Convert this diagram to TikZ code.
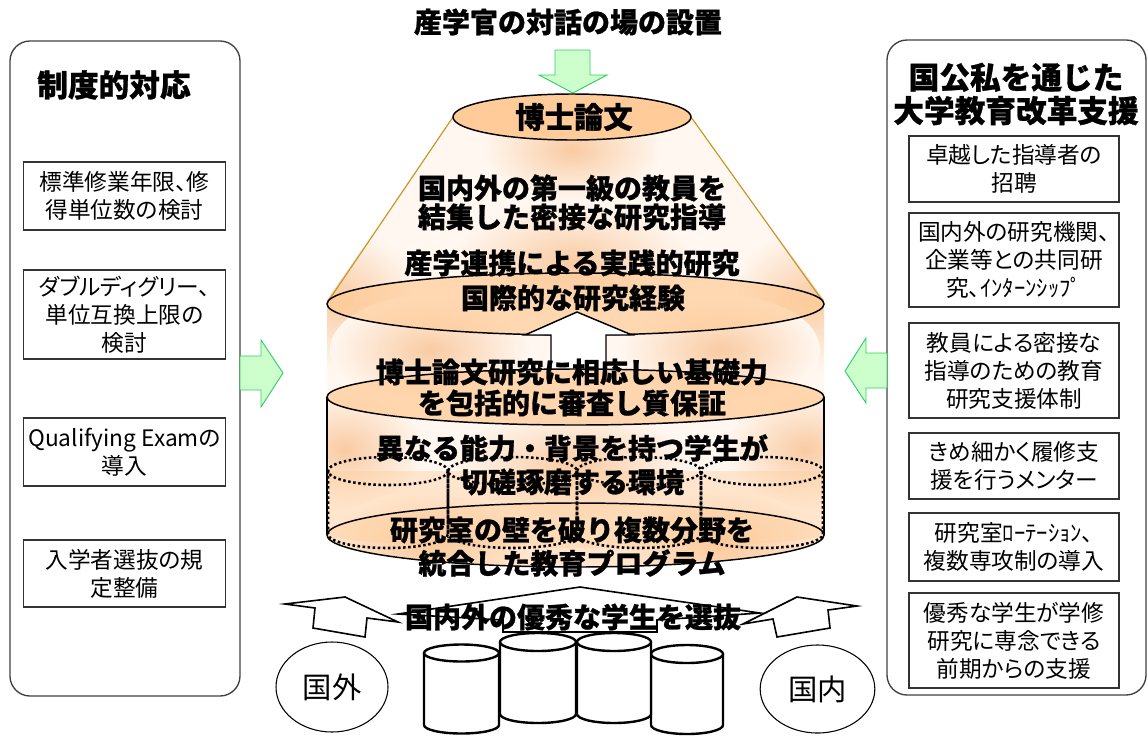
\documentclass[tikz,border=0pt]{standalone}
\usepackage{fontspec}
\newfontfamily\jp[BoldFeatures={FakeBold=0.9}]{Noto Sans CJK JP}
\newfontfamily\jpp[RawFeature=+palt]{Noto Sans CJK JP}
\usetikzlibrary{shapes.geometric}
\definecolor{peach}{HTML}{FFCC99}
\definecolor{peachlt}{HTML}{FFF7F0}
\definecolor{blob}{HTML}{F9CBA2}
\definecolor{gold}{HTML}{C8982A}
\definecolor{mint}{HTML}{CCFFCC}
\definecolor{mintdk}{HTML}{33CC66}

\begin{document}
\begin{tikzpicture}[
		x=0.75pt, y=-0.75pt,
		every node/.style={inner sep=0pt},
		headtext/.style={font=\jp\bfseries\fontsize{21}{24}\selectfont},
		sidetitle/.style={font=\jp\bfseries\fontsize{23}{25}\selectfont, align=center},
		itembox/.style={draw=black!80, line width=0.8pt, align=center, font=\jpp\fontsize{17}{21}\selectfont},
		lbox/.style={itembox, minimum width=152pt},
		rbox/.style={itembox, minimum width=157.5pt},
		panel/.style={draw=black!75, line width=1pt, rounded corners=15pt},
		greenarrow/.style={fill=mint, draw=mintdk, line width=0.7pt},
		disc/.style={draw=black, line width=1.1pt},
		wallline/.style={line width=1.9pt, dash pattern=on 1.9pt off 1.9pt},
		drum/.style={draw=black, fill=white, line width=1.8pt},
		outline/.style={draw=black, fill=white, line width=1.2pt},
		origin/.style={draw, ellipse, line width=0.8pt, font=\jp\fontsize{22}{24}\selectfont}
	]
  \useasboundingbox (0,0) rectangle (1148,743);

  % side panels
  \draw[panel] (10,41) rectangle (240,696);
  \draw[panel] (887,40) rectangle (1146,695);
  \node (ltitle) [sidetitle] at (114,85) {制度的対応};
  \node (l1) [lbox, minimum height=51pt] at (124.5,196) {標準修業年限、修\\得単位数の検討};
  \node (l2) [lbox, minimum height=66.75pt] at (124.5,314.5) {ダブルディグリー、\\単位互換上限の\\検討};
  \node (l3) [lbox, minimum height=51pt] at (124.5,452) {Qualifying Examの\\導入};
  \node (l4) [lbox, minimum height=50.25pt] at (124.5,573.5) {入学者選抜の規\\定整備};

  \node (rtitle) [sidetitle] at (1016,94) {国公私を通じた\\大学教育改革支援};
  \node (r1) [rbox, minimum height=49.5pt] at (1014,169) {卓越した指導者の\\招聘};
  \node (r2) [rbox, minimum height=70.5pt] at (1014,260) {国内外の研究機関、\\企業等との共同研\\究、ｲﾝﾀｰﾝｼｯﾌﾟ};
  \node (r3) [rbox, minimum height=71.25pt] at (1014,370.5) {教員による密接な\\指導のための教育\\研究支援体制};
  \node (r4) [rbox, minimum height=49.5pt] at (1014,466) {きめ細かく履修支\\援を行うメンター};
  \node (r5) [rbox, minimum height=51pt] at (1014,547) {研究室ﾛｰﾃｰｼｮﾝ、\\複数専攻制の導入};
  \node (r6) [rbox, minimum height=71.25pt] at (1014,640.5) {優秀な学生が学修\\研究に専念できる\\前期からの支援};

  % green arrows
  \draw[greenarrow] (240,356) -- (261,356) -- (261,340) -- (283,373) -- (261,407) -- (261,390) -- (240,390) -- cycle;
  \draw[greenarrow] (887,353) -- (866,353) -- (866,338) -- (845,371) -- (866,403) -- (866,388) -- (887,388) -- cycle;
  \draw[greenarrow] (555,50) -- (590,50) -- (590,75) -- (607,75) -- (573,93) -- (539,75) -- (555,75) -- cycle;
  \node (dialog) [headtext] at (568,22) {産学官の対話の場の設置};

  % textured cone and cylinder
  \begin{scope}
    \clip (453,117) -- (691,117) -- (824,300) -- (824,535) arc[start angle=0, end angle=180, x radius=248.5, y radius=32] -- (327,300) -- cycle;
    \fill[peachlt] (300,90) rectangle (850,600);
    \shade[inner color=blob, outer color=peachlt] (572,150) ellipse [x radius=90, y radius=50];
    \shade[inner color=blob, outer color=peachlt] (572,262) ellipse [x radius=120, y radius=60];
    \shade[inner color=blob, outer color=peachlt] (340,300) ellipse [x radius=80, y radius=70];
    \shade[inner color=blob, outer color=peachlt] (810,300) ellipse [x radius=80, y radius=70];
    \shade[inner color=blob, outer color=peachlt] (430,350) ellipse [x radius=100, y radius=55];
    \shade[inner color=blob, outer color=peachlt] (720,350) ellipse [x radius=100, y radius=55];
    \shade[inner color=blob, outer color=peachlt] (345,450) ellipse [x radius=80, y radius=60];
    \shade[inner color=blob, outer color=peachlt] (805,450) ellipse [x radius=80, y radius=60];
    \shade[inner color=blob, outer color=peachlt] (572,465) ellipse [x radius=120, y radius=55];
    \shade[inner color=blob, outer color=peachlt] (430,545) ellipse [x radius=100, y radius=55];
    \shade[inner color=blob, outer color=peachlt] (720,545) ellipse [x radius=100, y radius=55];
  \end{scope}
  \draw[gold, line width=0.9pt] (453,117) -- (329,300);
  \draw[gold, line width=0.9pt] (691,117) -- (822,300);

  % thesis disc and research disc
  \draw[disc, fill=peach] (572,117) ellipse [x radius=119, y radius=23];
  \node (thesis) [font=\jp\bfseries\fontsize{22}{24}\selectfont] at (574,117) {博士論文};
  \draw[disc, fill=peach, fill opacity=0.7] (575.5,304) ellipse [x radius=248.5, y radius=31];
  \draw[outline, line width=1.1pt] (551,372) -- (551,335) -- (525,335) -- (577,312) -- (632,335) -- (606,335) -- (606,372);

  % big cylinder
  \draw[line width=1.1pt] (327,397) -- (327,535);
  \draw[line width=1.1pt] (824,397) -- (824,535);
  \draw[disc, fill=peach, fill opacity=0.75] (575.5,397) ellipse [x radius=248.5, y radius=28];
  \fill[peach, opacity=0.4] (328,471) -- (328,534) arc[start angle=180, end angle=0, x radius=247.5, y radius=14] -- (823,471) -- cycle;
  \draw[disc, fill=peach, fill opacity=0.4] (575.5,535) ellipse [x radius=248.5, y radius=32];

  % dotted lab walls
  \draw[wallline] (328,471) -- (328,534) arc[start angle=180, end angle=0, x radius=60, y radius=14] -- (448,471);
  \draw[wallline] (388,471) ellipse [x radius=60, y radius=14];
  \draw[wallline] (448,471) -- (448,534) arc[start angle=180, end angle=0, x radius=64.5, y radius=14] -- (577,471);
  \draw[wallline] (512.5,471) ellipse [x radius=64.5, y radius=14];
  \draw[wallline] (577,471) -- (577,534) arc[start angle=180, end angle=0, x radius=62, y radius=14] -- (701,471);
  \draw[wallline] (639,471) ellipse [x radius=62, y radius=14];
  \draw[wallline] (701,471) -- (701,534) arc[start angle=180, end angle=0, x radius=61, y radius=14] -- (823,471);
  \draw[wallline] (762,471) ellipse [x radius=61, y radius=14];

  % texts on the cone and cylinder
  \node (c1) [headtext] at (572,188) {国内外の第一級の教員を};
  \node (c2) [headtext] at (572,217) {結集した密接な研究指導};
  \node (c3) [headtext] at (572,263) {産学連携による実践的研究};
  \node (c4) [headtext] at (573,298) {国際的な研究経験};
  \node (c5) [headtext] at (572,372) {博士論文研究に相応しい基礎力};
  \node (c6) [headtext] at (572,403) {を包括的に審査し質保証};
  \node (c7) [headtext] at (572,448) {異なる能力・背景を持つ学生が};
  \node (c8) [headtext] at (572,482) {切磋琢磨する環境};
  \node (c9) [headtext] at (572,530) {研究室の壁を破り複数分野を};
  \node (c10) [headtext] at (572,563) {統合した教育プログラム};

  % selection arrows
  \draw[outline] (398,622) -- (345,597) -- (285,604) -- (315,608) -- (313,628) -- (365,637) -- (367,618) -- cycle;
  \draw[outline] (743,624) -- (797,597) -- (857,606) -- (828,610) -- (830,628) -- (777,637) -- (773,619) -- cycle;
  \draw[outline] (398,614) -- (580,587) -- (760,613) -- (657,620) -- (657,632) -- (503,632) -- (503,620) -- cycle;
  \node (pick) [headtext] at (573,617) {国内外の優秀な学生を選抜};

  % student pools
  \draw[drum] (424,653) -- (424,725) arc[start angle=180, end angle=0, x radius=37.5, y radius=8.5] -- (499,653);
  \draw[drum] (461.5,653) ellipse [x radius=37.5, y radius=8.5];
  \draw[drum] (651,654) -- (651,725) arc[start angle=180, end angle=0, x radius=36, y radius=9] -- (723,654);
  \draw[drum] (687,654) ellipse [x radius=36, y radius=9];
  \draw[drum] (500,642) -- (500,714) arc[start angle=180, end angle=0, x radius=38, y radius=9] -- (576,642);
  \draw[drum] (538,642) ellipse [x radius=38, y radius=9];
  \draw[drum] (577,642) -- (577,714) arc[start angle=180, end angle=0, x radius=37, y radius=9] -- (651,642);
  \draw[drum] (614,642) ellipse [x radius=37, y radius=9];

  \node (abroad) [origin, minimum width=84pt, minimum height=67.5pt] at (332,687) {国外};
  \node (home) [origin, minimum width=86pt, minimum height=66pt] at (817.5,689) {国内};
\end{tikzpicture}
\end{document}
